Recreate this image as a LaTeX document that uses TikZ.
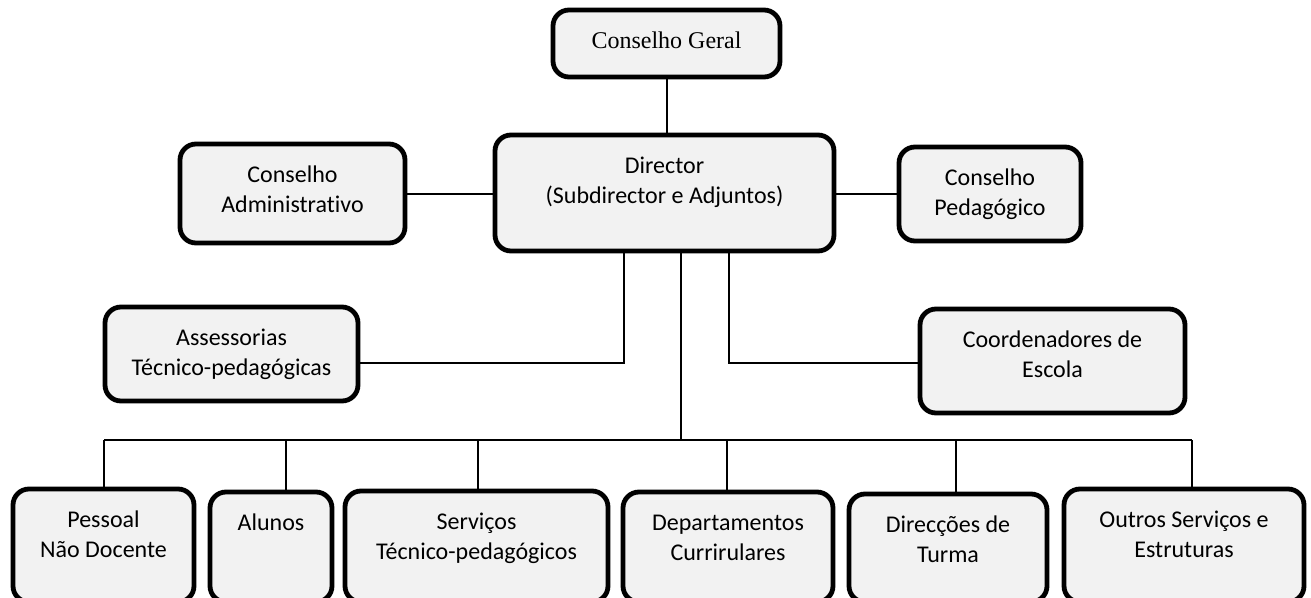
\documentclass[tikz,border=0pt]{standalone}
\usepackage{fontspec}
\setmainfont{Carlito}
\newfontfamily\carl[Ligatures=NoCommon]{Carlito}
\newfontfamily\tms{Liberation Serif}
\definecolor{boxfill}{HTML}{F2F2F2}
\newcommand\bt[3]{\parbox[c][#2][t]{#1}{\centering\vspace*{17pt}#3}}
\begin{document}
\begin{tikzpicture}[x=1pt,y=-1pt,
  box/.style={draw=black, line width=4.8pt, rounded corners=16pt, fill=boxfill,
    inner sep=0pt, outer sep=0pt, font=\fontsize{24}{30}\selectfont\carl},
  link/.style={draw=black, line width=2pt}]
\useasboundingbox (0,0) rectangle (1311,597);
\begin{scope}
\clip (0,0) rectangle (1311,597);
% top level
\node[box, font=\fontsize{24}{30}\selectfont\tms] (cg) at (666.5,43.5) {\bt{227pt}{67pt}{\strut Conselho Geral}};
\node[box] (dir) at (664.5,193) {\bt{339pt}{116pt}{\strut Director\\\strut (Subdirector e Adjuntos)}};
\node[box] (ca) at (292.5,193.5) {\bt{225pt}{99pt}{\strut Conselho\\\strut Administrativo}};
\node[box] (cp) at (990,194) {\bt{182pt}{94pt}{\strut Conselho\\\strut Pedagógico}};
\node[box] (as) at (231.5,354) {\bt{253pt}{94pt}{\strut Assessorias\\\strut Técnico-pedagógicas}};
\node[box] (co) at (1052.5,361) {\bt{265pt}{104pt}{\strut Coordenadores de\\\strut Escola}};
% bottom row
\node[box, anchor=north] (pe) at (103.5,489) {\bt{181pt}{113pt}{\strut Pessoal\\\strut Não Docente}};
\node[box, anchor=north] (al) at (271,492) {\bt{122pt}{110pt}{\strut Alunos}};
\node[box, anchor=north] (se) at (476.5,491) {\bt{263pt}{111pt}{\strut Serviços\\\strut Técnico-pedagógicos}};
\node[box, anchor=north] (de) at (728,492) {\bt{210pt}{110pt}{\strut Departamentos\\\strut Currirulares}};
\node[box, anchor=north] (dt) at (948,494) {\bt{198pt}{108pt}{\strut Direcções de\\\strut Turma}};
\node[box, anchor=north] (ou) at (1184,489) {\bt{240pt}{113pt}{\strut Outros Serviços e\\\strut Estruturas}};
\end{scope}
% bus coordinates
\coordinate (b1) at (104,440);
\coordinate (b2) at (286,440);
\coordinate (b3) at (478,440);
\coordinate (b4) at (727,440);
\coordinate (b5) at (956,440);
\coordinate (b6) at (1192,440);
\coordinate (bus) at (681,440);
% connectors
\draw[link] (cg.south) -- (cg.south |- dir.north);
\draw[link] (ca.east) -- (ca.east -| dir.west);
\draw[link] (dir.east |- cp.west) -- (cp.west);
\draw[link] ([xshift=-40.5pt]dir.south) |- ([yshift=-9pt]as.east);
\draw[link] ([xshift=64.5pt]dir.south) |- ([yshift=-2pt]co.west);
\draw[link] (bus |- dir.south) -- (bus);
\draw[link] (b1) -- (b6);
\draw[link] (b1) -- (b1 |- pe.north);
\draw[link] (b2) -- (b2 |- al.north);
\draw[link] (b3) -- (b3 |- se.north);
\draw[link] (b4) -- (b4 |- de.north);
\draw[link] (b5) -- (b5 |- dt.north);
\draw[link] (b6) -- (b6 |- ou.north);
\end{tikzpicture}
\end{document}
